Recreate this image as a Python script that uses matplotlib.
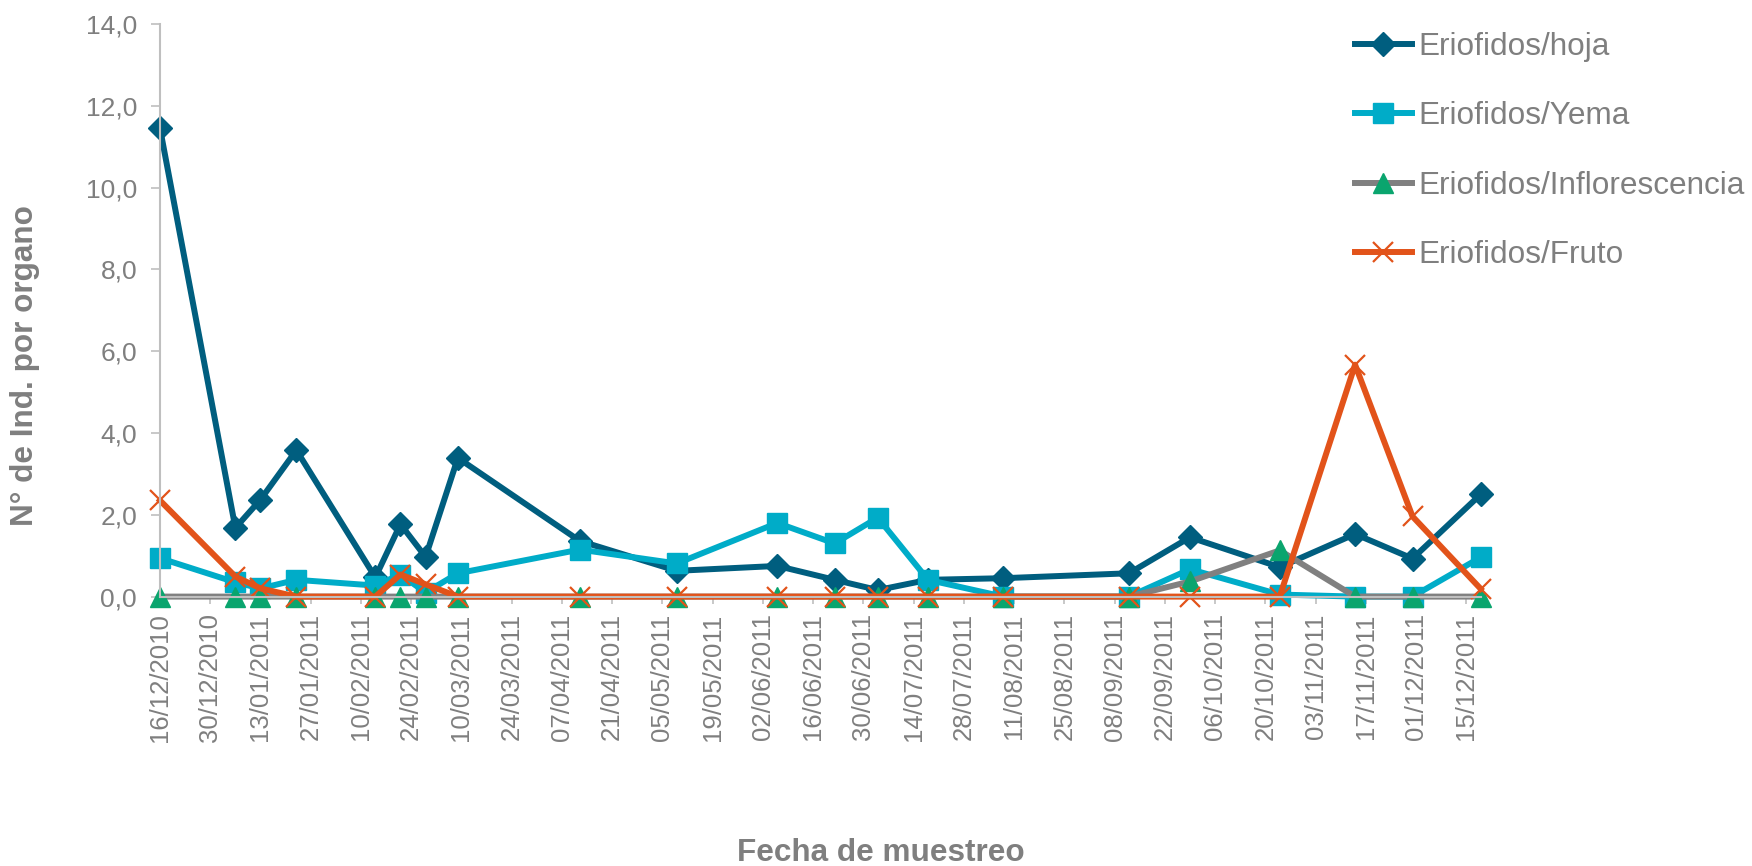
import datetime as dt
import matplotlib
matplotlib.use("Agg")
import matplotlib.pyplot as plt

plt.rcParams['font.family'] = ['Liberation Sans', 'DejaVu Sans']

# sampling dates and counts per organ
fechas = ["16/12/2010", "06/01/2011", "13/01/2011", "23/01/2011", "14/02/2011",
          "21/02/2011", "28/02/2011", "09/03/2011", "12/04/2011", "09/05/2011",
          "06/06/2011", "22/06/2011", "04/07/2011", "18/07/2011", "08/08/2011",
          "12/09/2011", "29/09/2011", "24/10/2011", "14/11/2011", "30/11/2011",
          "19/12/2011"]
hoja = [11.45, 1.68, 2.37, 3.58, 0.47, 1.77, 0.97, 3.39, 1.36, 0.63,
        0.75, 0.41, 0.16, 0.41, 0.45, 0.57, 1.45, 0.72, 1.53, 0.93, 2.50]
yema = [0.94, 0.35, 0.20, 0.41, 0.27, 0.54, 0.10, 0.57, 1.15, 0.81,
        1.80, 1.30, 1.93, 0.41, 0.0, 0.0, 0.67, 0.05, 0.0, 0.0, 0.96]
inflorescencia = [0.0, 0.0, 0.0, 0.0, 0.0, 0.0, 0.0, 0.0, 0.0, 0.0,
                  0.0, 0.0, 0.0, 0.0, 0.0, 0.0, 0.37, 1.13, 0.0, 0.0, 0.0]
fruto = [2.35, 0.49, 0.20, 0.0, 0.0, 0.54, 0.30, 0.0, 0.0, 0.0,
         0.0, 0.0, 0.0, 0.0, 0.0, 0.0, 0.0, 0.0, 5.67, 1.96, 0.19]

etiquetas = ["Eriofidos/hoja", "Eriofidos/Yema", "Eriofidos/Inflorescencia", "Eriofidos/Fruto"]
tick_inicio = "16/12/2010"
n_ticks = 27

x = [dt.datetime.strptime(f, "%d/%m/%Y") for f in fechas]
gris = '#7F7F7F'
gris_eje = '#BFBFBF'

fig = plt.figure(figsize=(17.52, 8.66), dpi=100)
W, H = 1752, 866
x_left, x_right, y_top, y_bot = 160, 1480.7, 24, 596.6
ax = fig.add_axes([x_left / W, 1 - y_bot / H, (x_right - x_left) / W, (y_bot - y_top) / H])

lw = 4.3
ax.plot(x, hoja, color='#005E7F', lw=lw, marker='D', ms=12,
        mec='#005E7F', mfc='#005E7F', clip_on=False, label=etiquetas[0])
ax.plot(x, yema, color='#00ACC8', lw=lw, marker='s', ms=14.5,
        mec='#00ACC8', mfc='#00ACC8', clip_on=False, label=etiquetas[1])
ax.plot(x, inflorescencia, color='#808080', lw=lw, marker='^', ms=15,
        mec='#0AA56E', mfc='#0AA56E', clip_on=False, label=etiquetas[2])
ax.plot(x, fruto, color='#E2531A', lw=lw, marker='x', ms=15, mew=1.6,
        mec='#E2531A', clip_on=False, label=etiquetas[3])

ax.set_xlim(x[0], x[-1])
ax.set_ylim(0, 14)

t0 = dt.datetime.strptime(tick_inicio, "%d/%m/%Y")
ticks = [t0 + dt.timedelta(days=14 * i) for i in range(n_ticks)]
ax.set_xticks(ticks)
ax.set_xticklabels([t.strftime("%d/%m/%Y") for t in ticks], rotation=90)
ax.set_yticks(range(0, 15, 2))
ax.set_yticklabels([f"{v:.1f}".replace('.', ',') for v in range(0, 15, 2)])

ax.tick_params(axis='x', direction='out', length=5, width=1.2, color=gris_eje,
               labelcolor=gris, labelsize=18.5, pad=7)
ax.tick_params(axis='y', direction='out', length=6.5, width=1.2, color=gris_eje,
               labelcolor=gris, labelsize=19, pad=10)
for s in ['top', 'right']:
    ax.spines[s].set_visible(False)
for s in ['left', 'bottom']:
    ax.spines[s].set_color(gris_eje)
    ax.spines[s].set_linewidth(1.5)

fig.text(25 / W, 1 - 366 / H, "N° de Ind. por organo", rotation=90, ha='center',
         va='center', fontsize=22.7, fontweight='bold', color=gris)
fig.text(881 / W, 1 - 861 / H, "Fecha de muestreo", ha='center', va='baseline',
         fontsize=22.7, fontweight='bold', color=gris)

fig.legend(loc='upper left', bbox_to_anchor=(1355 / W, 1 - 32 / H), frameon=False,
           fontsize=22.7, labelcolor=gris, handlelength=1.8, handletextpad=0.2,
           labelspacing=1.25, borderpad=0, borderaxespad=0)

fig.savefig("out.png", dpi=100)
